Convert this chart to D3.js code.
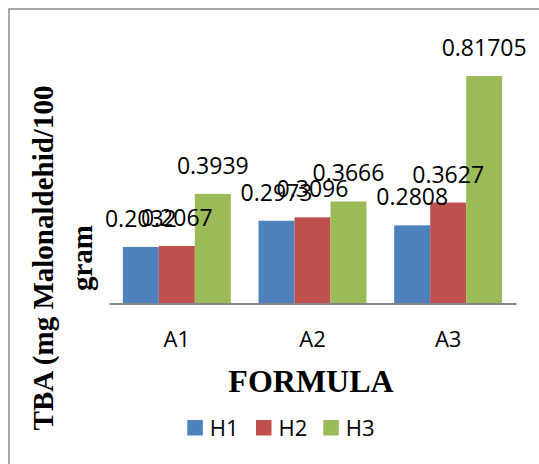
<!DOCTYPE html>
<html>
<head>
<meta charset="utf-8">
<script src="https://cdn.jsdelivr.net/npm/d3@7"></script>
<style>
  body { margin: 0; background: #fff; }
</style>
</head>
<body>
<div id="chart"></div>
<script>
const categories = ["A1", "A2", "A3"]
const seriesNames = ["H1", "H2", "H3"]
const H1 = [0.2032, 0.2973, 0.2808]
const H2 = [0.2067, 0.3096, 0.3627]
const H3 = [0.3939, 0.3666, 0.81705]
const seriesColors = ["#4F81BD", "#C0504D", "#9BBB59"]

const W = 539, H = 464
const PLOT = { LEFT: 109, RIGHT: 516, TOP: 53, BOTTOM: 303.5 }

const svg = d3.select("#chart").append("svg")
  .attr("width", W)
  .attr("height", H)

// chart frame (runs off right/bottom edge like the source)
svg.append("rect")
  .attr("x", 9).attr("y", 9)
  .attr("width", 600).attr("height", 600)
  .attr("fill", "none")
  .attr("stroke", "#8a8a8a")
  .attr("stroke-width", 1.5)

const x = d3.scaleBand()
  .domain(categories)
  .range([PLOT.LEFT, PLOT.RIGHT])

const xInner = d3.scaleBand()
  .domain(seriesNames)
  .range([0, x.bandwidth()])
  .paddingInner(0)
  .paddingOuter(0.385)

const y = d3.scaleLinear()
  .domain([0, 0.9])
  .range([PLOT.BOTTOM, PLOT.TOP])

const rows = categories.map((c, i) => ({
  cat: c,
  vals: [H1[i], H2[i], H3[i]]
}))

const groups = svg.selectAll("g.group")
  .data(rows)
  .enter().append("g")
  .attr("class", "group")
  .attr("transform", d => `translate(${x(d.cat)}, 0)`)

groups.selectAll("rect")
  .data(d => d.vals.map((v, j) => ({ name: seriesNames[j], v: v, color: seriesColors[j] })))
  .enter().append("rect")
  .attr("x", d => xInner(d.name))
  .attr("y", d => y(d.v))
  .attr("width", xInner.bandwidth())
  .attr("height", d => y(0) - y(d.v))
  .attr("fill", d => d.color)

// data labels
groups.selectAll("text.val")
  .data(d => d.vals.map((v, j) => ({ name: seriesNames[j], v: v })))
  .enter().append("text")
  .attr("class", "val")
  .attr("x", d => xInner(d.name) + xInner.bandwidth() / 2)
  .attr("y", d => y(d.v) - 20)
  .attr("text-anchor", "middle")
  .attr("font-family", "'Open Sans', sans-serif")
  .attr("font-size", "23px")
  .attr("fill", "#000")
  .text(d => d.v)

// x axis
const xAxis = svg.append("g")
  .attr("transform", `translate(0, ${PLOT.BOTTOM})`)
  .call(d3.axisBottom(x).tickSize(0).tickPadding(0))
xAxis.select(".domain")
  .attr("stroke", "#868686")
  .attr("stroke-width", 2)
xAxis.selectAll("text")
  .attr("y", 43.5)
  .attr("dy", null)
  .attr("font-family", "'Open Sans', sans-serif")
  .attr("font-size", "22px")
  .attr("fill", "#000")

// X label
svg.append("text")
  .attr("x", 311)
  .attr("y", 391.5)
  .attr("text-anchor", "middle")
  .attr("font-family", "'Liberation Serif', 'Times New Roman', serif")
  .attr("font-weight", "bold")
  .attr("font-size", "32px")
  .text("FORMULA")

// Y label (two lines)
const yLabel = svg.append("text")
  .attr("transform", "rotate(-90)")
  .attr("text-anchor", "middle")
  .attr("font-family", "'Liberation Serif', 'Times New Roman', serif")
  .attr("font-weight", "bold")
  .attr("font-size", "29px")
yLabel.append("tspan").attr("x", -258).attr("y", 53).text("TBA (mg Malonaldehid/100")
yLabel.append("tspan").attr("x", -258).attr("y", 92).text("gram")

// legend
const legendX = [187.3, 256, 323.3]
const legend = svg.selectAll("g.legend")
  .data(seriesNames)
  .enter().append("g")
  .attr("class", "legend")
  .attr("transform", (d, i) => `translate(${legendX[i]}, 420)`)
legend.append("rect")
  .attr("width", 15.5)
  .attr("height", 15.5)
  .attr("fill", (d, i) => seriesColors[i])
legend.append("text")
  .attr("x", 22.5)
  .attr("y", 16)
  .attr("font-family", "'Open Sans', sans-serif")
  .attr("font-size", "22px")
  .attr("fill", "#000")
  .text(d => d)
</script>
</body>
</html>
